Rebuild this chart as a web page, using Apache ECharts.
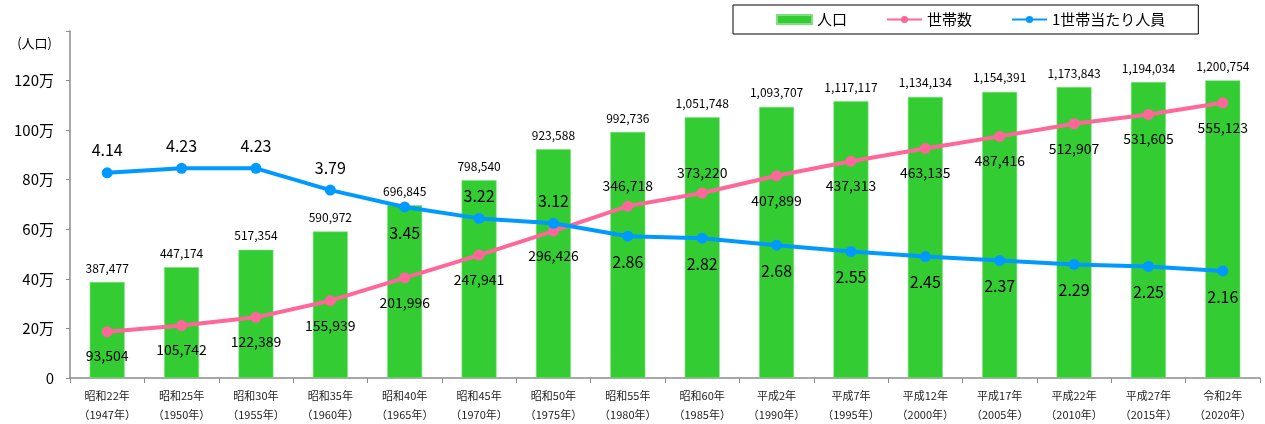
<!DOCTYPE html>
<html>
<head>
<meta charset="utf-8">
<script src="https://cdn.jsdelivr.net/npm/echarts@6/dist/echarts.min.js"></script>
<style>
html,body{margin:0;padding:0;background:#fff;}
#chart{width:1265px;height:424px;}
</style>
</head>
<body>
<div id="chart"></div>
<script>
const categories = ['昭和22年\n（1947年）','昭和25年\n（1950年）','昭和30年\n（1955年）','昭和35年\n（1960年）','昭和40年\n（1965年）','昭和45年\n（1970年）','昭和50年\n（1975年）','昭和55年\n（1980年）','昭和60年\n（1985年）','平成2年\n（1990年）','平成7年\n（1995年）','平成12年\n（2000年）','平成17年\n（2005年）','平成22年\n（2010年）','平成27年\n（2015年）','令和2年\n（2020年）'];
const population = [387477,447174,517354,590972,696845,798540,923588,992736,1051748,1093707,1117117,1134134,1154391,1173843,1194034,1200754];
const households = [93504,105742,122389,155939,201996,247941,296426,346718,373220,407899,437313,463135,487416,512907,531605,555123];
const perHousehold = [4.14,4.23,4.23,3.79,3.45,3.22,3.12,2.86,2.82,2.68,2.55,2.45,2.37,2.29,2.25,2.16];
const yTicks = ['0','20万','40万','60万','80万','100万','120万',''];

// label placement (style)
const householdsAbove = new Set([7,8]);
const perAbove = new Set([0,1,2,3,5,6]);

const FONT = '"Noto Sans CJK JP", "Noto Sans", sans-serif';
const fmt = v => v.toLocaleString('en-US');

const chart = echarts.init(document.getElementById('chart'));
chart.setOption({
  animation: false,
  textStyle: {fontFamily: FONT},
  grid: {left: 70, right: 5, top: 31, bottom: 46, containLabel: false},
  legend: {
    left: 733, top: 5,
    padding: [7, 33, 7, 43],
    itemGap: 39,
    itemWidth: 35, itemHeight: 9,
    borderColor: '#000', borderWidth: 1,
    textStyle: {fontSize: 15, color: '#000', fontFamily: FONT},
    data: [
      {name: '人口', icon: 'rect'},
      {name: '世帯数'},
      {name: '1世帯当たり人員'}
    ]
  },
  graphic: [{
    type: 'text', right: 1265 - 52, top: 37,
    style: {text: '(人口)', font: '13px ' + FONT, fill: '#000', textAlign: 'right'}
  }],
  xAxis: {
    type: 'category',
    data: categories,
    axisLine: {lineStyle: {color: '#8c8c8c', width: 1.5}},
    axisTick: {show: true, length: 5, lineStyle: {color: '#8c8c8c'}},
    axisLabel: {fontSize: 11, color: '#222', lineHeight: 19, margin: 8, interval: 0}
  },
  yAxis: [
    {
      type: 'value', min: 0, max: 1400000, interval: 200000,
      axisLine: {show: true, lineStyle: {color: '#8c8c8c', width: 1.5}},
      axisTick: {show: true, length: 4, lineStyle: {color: '#8c8c8c'}},
      splitLine: {show: false},
      axisLabel: {fontSize: 15, color: '#000', margin: 16,
        formatter: (v) => yTicks[Math.round(v / 200000)]}
    },
    {type: 'value', min: 0, max: 700000, show: false, splitLine: {show: false}},
    {type: 'value', min: 0, max: 7, show: false, splitLine: {show: false}}
  ],
  series: [
    {
      name: '人口', type: 'bar', yAxisIndex: 0,
      data: population,
      barWidth: '47%',
      itemStyle: {color: '#33CC33', borderColor: '#7ee07e', borderWidth: 0.6},
      label: {show: true, position: 'top', distance: 8, fontSize: 12, color: '#000',
        formatter: p => fmt(p.value)}
    },
    {
      name: '世帯数', type: 'line', yAxisIndex: 1,
      data: households.map((v, i) => ({
        value: v,
        label: {position: householdsAbove.has(i) ? 'top' : 'bottom', distance: householdsAbove.has(i) ? 8 : 12}
      })),
      symbol: 'circle', symbolSize: 11,
      lineStyle: {color: '#FF6699', width: 4},
      itemStyle: {color: '#FF6699'},
      label: {show: true, fontSize: 14, color: '#000', formatter: p => fmt(p.value)},
      z: 3
    },
    {
      name: '1世帯当たり人員', type: 'line', yAxisIndex: 2,
      data: perHousehold.map((v, i) => ({
        value: v,
        label: {position: perAbove.has(i) ? 'top' : 'bottom', distance: perAbove.has(i) ? 9 : 12}
      })),
      symbol: 'circle', symbolSize: 11,
      lineStyle: {color: '#0099FF', width: 4},
      itemStyle: {color: '#0099FF'},
      label: {show: true, fontSize: 16, color: '#000', formatter: p => p.value.toFixed(2)},
      z: 4
    }
  ]
});
</script>
</body>
</html>
